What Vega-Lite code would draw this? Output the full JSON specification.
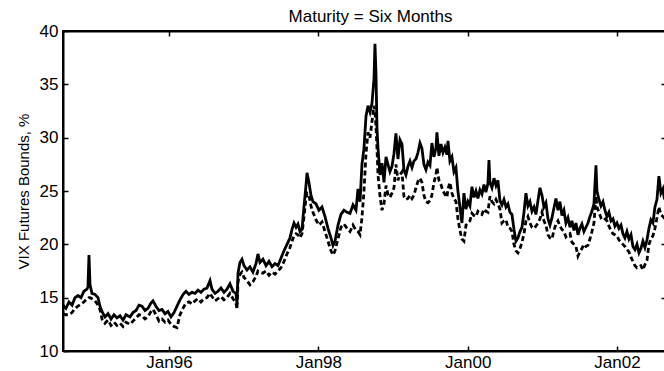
{
  "$schema": "https://vega.github.io/schema/vega-lite/v6.json",
  "autosize": "none",
  "width": 603,
  "height": 320,
  "padding": {"left": 63, "top": 31, "right": 0, "bottom": 20},
  "background": "white",
  "config": {
    "view": {"stroke": "black", "strokeWidth": 2},
    "font": "Liberation Sans",
    "axis": {"grid": false, "domainColor": "black", "domainWidth": 2, "tickColor": "black", "tickWidth": 1.5, "labelColor": "black", "labelFont": "Liberation Sans", "labelFontSize": 17, "titleFont": "Liberation Sans", "titleFontWeight": "normal", "titleColor": "black"}
  },
  "title": {"text": "Maturity = Six Months", "font": "Liberation Sans", "fontSize": 17, "fontWeight": "normal", "color": "black", "anchor": "middle", "baseline": "alphabetic", "offset": -17, "dx": 6},
  "data": {"values": [
    {"t":1994.580,"u":14.3,"l":13.5},{"t":1994.620,"u":14.0,"l":13.4},{"t":1994.660,"u":14.6,"l":13.4},{"t":1994.701,"u":14.3,"l":13.6},
    {"t":1994.741,"u":15.0,"l":14.0},{"t":1994.781,"u":15.2,"l":14.2},{"t":1994.821,"u":15.0,"l":14.4},{"t":1994.861,"u":15.6,"l":14.6},
    {"t":1994.901,"u":15.8,"l":14.9},{"t":1994.914,"u":16.0,"l":14.9},{"t":1994.928,"u":19.0,"l":15.0},{"t":1994.942,"u":16.2,"l":15.0},
    {"t":1994.968,"u":15.4,"l":14.9},{"t":1995.009,"u":15.3,"l":14.7},{"t":1995.049,"u":15.0,"l":14.3},{"t":1995.075,"u":14.2,"l":13.9},
    {"t":1995.102,"u":13.7,"l":13.0},{"t":1995.142,"u":13.2,"l":12.6},{"t":1995.183,"u":13.5,"l":12.9},{"t":1995.223,"u":13.0,"l":12.4},
    {"t":1995.263,"u":13.4,"l":12.7},{"t":1995.303,"u":13.1,"l":12.4},{"t":1995.343,"u":13.3,"l":12.6},{"t":1995.384,"u":12.9,"l":12.3},
    {"t":1995.424,"u":13.4,"l":12.7},{"t":1995.477,"u":13.2,"l":12.5},{"t":1995.517,"u":13.6,"l":12.8},{"t":1995.558,"u":13.8,"l":13.1},
    {"t":1995.598,"u":14.3,"l":13.4},{"t":1995.638,"u":14.2,"l":13.3},{"t":1995.678,"u":13.8,"l":13.0},{"t":1995.718,"u":14.0,"l":13.2},
    {"t":1995.758,"u":14.5,"l":13.7},{"t":1995.785,"u":14.7,"l":13.9},{"t":1995.825,"u":14.2,"l":13.4},{"t":1995.866,"u":13.8,"l":12.8},
    {"t":1995.906,"u":13.9,"l":13.0},{"t":1995.946,"u":13.5,"l":12.7},{"t":1995.986,"u":13.7,"l":12.9},{"t":1996.027,"u":13.2,"l":12.5},
    {"t":1996.067,"u":13.6,"l":12.3},{"t":1996.107,"u":14.2,"l":12.2},{"t":1996.147,"u":14.8,"l":13.4},{"t":1996.187,"u":15.3,"l":14.0},
    {"t":1996.227,"u":15.6,"l":14.5},{"t":1996.267,"u":15.3,"l":14.6},{"t":1996.308,"u":15.5,"l":14.4},{"t":1996.348,"u":15.4,"l":14.7},
    {"t":1996.388,"u":15.7,"l":14.9},{"t":1996.428,"u":15.5,"l":14.6},{"t":1996.468,"u":15.8,"l":14.9},{"t":1996.508,"u":15.9,"l":15.0},
    {"t":1996.549,"u":16.6,"l":15.4},{"t":1996.575,"u":15.8,"l":15.1},{"t":1996.616,"u":15.4,"l":14.7},{"t":1996.656,"u":15.6,"l":14.9},
    {"t":1996.696,"u":15.9,"l":15.1},{"t":1996.736,"u":15.5,"l":14.8},{"t":1996.776,"u":15.8,"l":15.0},{"t":1996.816,"u":16.3,"l":15.4},
    {"t":1996.857,"u":15.6,"l":14.9},{"t":1996.897,"u":15.4,"l":14.5},{"t":1996.910,"u":14.4,"l":13.9},{"t":1996.924,"u":17.3,"l":16.5},
    {"t":1996.950,"u":18.3,"l":17.2},{"t":1996.977,"u":18.6,"l":17.4},{"t":1997.004,"u":18.0,"l":16.9},{"t":1997.044,"u":17.6,"l":16.6},
    {"t":1997.084,"u":17.9,"l":16.2},{"t":1997.124,"u":17.4,"l":16.5},{"t":1997.165,"u":18.2,"l":17.0},{"t":1997.191,"u":19.1,"l":17.5},
    {"t":1997.218,"u":18.3,"l":17.4},{"t":1997.258,"u":18.6,"l":17.3},{"t":1997.299,"u":18.0,"l":17.5},{"t":1997.339,"u":18.4,"l":17.1},
    {"t":1997.379,"u":17.9,"l":17.4},{"t":1997.419,"u":18.2,"l":17.2},{"t":1997.459,"u":18.0,"l":17.5},{"t":1997.499,"u":18.7,"l":17.8},
    {"t":1997.540,"u":19.4,"l":18.4},{"t":1997.580,"u":20.0,"l":19.1},{"t":1997.620,"u":20.6,"l":19.7},{"t":1997.647,"u":21.4,"l":20.3},
    {"t":1997.674,"u":22.0,"l":20.8},{"t":1997.701,"u":21.6,"l":21.0},{"t":1997.727,"u":21.9,"l":20.9},{"t":1997.754,"u":21.2,"l":20.6},
    {"t":1997.781,"u":21.4,"l":21.0},{"t":1997.807,"u":23.5,"l":22.5},{"t":1997.834,"u":25.5,"l":24.3},{"t":1997.848,"u":26.7,"l":24.8},
    {"t":1997.874,"u":25.8,"l":24.6},{"t":1997.901,"u":24.6,"l":23.6},{"t":1997.928,"u":24.0,"l":23.0},{"t":1997.968,"u":23.8,"l":22.3},
    {"t":1998.008,"u":23.2,"l":21.8},{"t":1998.049,"u":23.5,"l":22.1},{"t":1998.089,"u":22.6,"l":21.2},{"t":1998.129,"u":21.5,"l":20.3},
    {"t":1998.169,"u":20.6,"l":19.4},{"t":1998.196,"u":19.9,"l":19.0},{"t":1998.223,"u":20.3,"l":19.4},{"t":1998.263,"u":21.8,"l":20.5},
    {"t":1998.303,"u":22.8,"l":21.6},{"t":1998.343,"u":23.2,"l":21.9},{"t":1998.384,"u":23.0,"l":21.5},{"t":1998.424,"u":22.9,"l":21.2},
    {"t":1998.464,"u":23.7,"l":21.8},{"t":1998.504,"u":23.2,"l":21.3},{"t":1998.531,"u":25.2,"l":21.2},{"t":1998.558,"u":24.0,"l":20.9},
    {"t":1998.584,"u":27.5,"l":22.5},{"t":1998.611,"u":29.0,"l":25.0},{"t":1998.638,"u":32.0,"l":28.5},{"t":1998.665,"u":33.0,"l":30.5},
    {"t":1998.692,"u":32.4,"l":30.0},{"t":1998.718,"u":33.2,"l":31.5},{"t":1998.745,"u":35.5,"l":33.0},{"t":1998.758,"u":38.8,"l":32.5},
    {"t":1998.772,"u":36.0,"l":31.0},{"t":1998.785,"u":31.0,"l":29.0},{"t":1998.799,"u":29.0,"l":26.5},{"t":1998.826,"u":26.5,"l":24.5},
    {"t":1998.852,"u":27.6,"l":23.2},{"t":1998.879,"u":25.8,"l":23.8},{"t":1998.906,"u":28.2,"l":25.5},{"t":1998.932,"u":27.5,"l":24.7},
    {"t":1998.959,"u":26.8,"l":24.4},{"t":1998.986,"u":27.3,"l":24.8},{"t":1999.013,"u":28.5,"l":25.3},{"t":1999.039,"u":30.4,"l":27.5},
    {"t":1999.066,"u":28.0,"l":26.0},{"t":1999.093,"u":29.8,"l":26.5},{"t":1999.120,"u":29.4,"l":26.8},{"t":1999.146,"u":27.0,"l":24.5},
    {"t":1999.173,"u":26.5,"l":24.2},{"t":1999.200,"u":27.3,"l":24.3},{"t":1999.227,"u":27.8,"l":24.6},{"t":1999.254,"u":27.2,"l":24.3},
    {"t":1999.280,"u":27.8,"l":24.6},{"t":1999.307,"u":28.0,"l":25.3},{"t":1999.334,"u":28.6,"l":25.9},{"t":1999.361,"u":29.5,"l":26.2},
    {"t":1999.387,"u":29.0,"l":25.8},{"t":1999.414,"u":27.5,"l":24.6},{"t":1999.441,"u":27.0,"l":24.0},{"t":1999.468,"u":27.7,"l":23.9},
    {"t":1999.495,"u":27.4,"l":24.1},{"t":1999.521,"u":29.5,"l":24.6},{"t":1999.548,"u":28.2,"l":25.8},{"t":1999.575,"u":29.0,"l":26.5},
    {"t":1999.588,"u":30.5,"l":27.2},{"t":1999.615,"u":28.3,"l":26.0},{"t":1999.642,"u":29.4,"l":25.6},{"t":1999.669,"u":28.6,"l":25.0},
    {"t":1999.695,"u":29.1,"l":24.7},{"t":1999.722,"u":28.4,"l":24.4},{"t":1999.736,"u":29.7,"l":25.2},{"t":1999.762,"u":27.8,"l":25.8},
    {"t":1999.789,"u":28.2,"l":24.8},{"t":1999.816,"u":26.8,"l":24.3},{"t":1999.843,"u":27.2,"l":24.0},{"t":1999.869,"u":25.0,"l":22.4},
    {"t":1999.896,"u":23.5,"l":21.3},{"t":1999.923,"u":22.0,"l":20.5},{"t":1999.950,"u":24.8,"l":20.3},{"t":1999.977,"u":23.3,"l":21.8},
    {"t":2000.003,"u":24.0,"l":22.0},{"t":2000.030,"u":23.6,"l":22.2},{"t":2000.057,"u":25.4,"l":22.9},{"t":2000.084,"u":24.4,"l":22.7},
    {"t":2000.111,"u":25.0,"l":22.6},{"t":2000.137,"u":24.3,"l":23.1},{"t":2000.164,"u":25.1,"l":22.9},{"t":2000.191,"u":24.7,"l":22.8},
    {"t":2000.218,"u":25.6,"l":23.3},{"t":2000.244,"u":24.9,"l":23.1},{"t":2000.271,"u":25.7,"l":23.0},{"t":2000.285,"u":27.9,"l":23.8},
    {"t":2000.298,"u":25.8,"l":24.5},{"t":2000.325,"u":25.3,"l":24.0},{"t":2000.352,"u":26.2,"l":23.8},{"t":2000.379,"u":25.5,"l":24.2},
    {"t":2000.405,"u":26.0,"l":23.8},{"t":2000.432,"u":24.1,"l":23.3},{"t":2000.459,"u":23.7,"l":22.0},{"t":2000.486,"u":24.2,"l":22.2},
    {"t":2000.513,"u":23.5,"l":22.3},{"t":2000.539,"u":23.8,"l":21.6},{"t":2000.566,"u":23.0,"l":21.5},{"t":2000.593,"u":22.8,"l":21.2},
    {"t":2000.620,"u":21.4,"l":20.0},{"t":2000.647,"u":20.3,"l":19.4},{"t":2000.673,"u":20.6,"l":19.2},{"t":2000.700,"u":21.2,"l":19.6},
    {"t":2000.727,"u":21.6,"l":20.2},{"t":2000.754,"u":23.0,"l":21.0},{"t":2000.780,"u":24.8,"l":22.2},{"t":2000.807,"u":23.6,"l":22.6},
    {"t":2000.834,"u":24.0,"l":22.0},{"t":2000.861,"u":23.1,"l":21.6},{"t":2000.888,"u":23.5,"l":21.5},{"t":2000.914,"u":22.8,"l":21.7},
    {"t":2000.941,"u":24.1,"l":22.0},{"t":2000.968,"u":25.3,"l":22.4},{"t":2000.995,"u":24.6,"l":23.0},{"t":2001.021,"u":23.5,"l":22.2},
    {"t":2001.048,"u":23.9,"l":21.8},{"t":2001.075,"u":22.4,"l":20.9},{"t":2001.102,"u":21.8,"l":20.6},{"t":2001.129,"u":22.5,"l":20.5},
    {"t":2001.155,"u":23.4,"l":21.3},{"t":2001.182,"u":24.3,"l":21.9},{"t":2001.209,"u":23.2,"l":22.2},{"t":2001.236,"u":24.0,"l":21.7},
    {"t":2001.262,"u":22.7,"l":21.4},{"t":2001.289,"u":23.2,"l":21.2},{"t":2001.316,"u":22.0,"l":20.7},{"t":2001.343,"u":22.5,"l":20.9},
    {"t":2001.370,"u":21.6,"l":21.0},{"t":2001.396,"u":22.2,"l":20.2},{"t":2001.423,"u":21.3,"l":20.0},{"t":2001.450,"u":22.0,"l":19.8},
    {"t":2001.477,"u":20.9,"l":18.9},{"t":2001.503,"u":21.5,"l":19.3},{"t":2001.530,"u":21.9,"l":19.6},{"t":2001.557,"u":21.2,"l":20.0},
    {"t":2001.584,"u":21.6,"l":19.8},{"t":2001.611,"u":22.0,"l":19.9},{"t":2001.637,"u":22.6,"l":20.5},{"t":2001.664,"u":23.1,"l":21.2},
    {"t":2001.691,"u":23.8,"l":22.0},{"t":2001.718,"u":27.4,"l":24.5},{"t":2001.731,"u":25.0,"l":23.5},{"t":2001.758,"u":24.2,"l":23.0},
    {"t":2001.785,"u":23.6,"l":22.5},{"t":2001.812,"u":24.0,"l":22.6},{"t":2001.838,"u":23.2,"l":22.4},{"t":2001.865,"u":22.6,"l":22.2},
    {"t":2001.892,"u":23.0,"l":21.7},{"t":2001.919,"u":22.2,"l":21.3},{"t":2001.946,"u":22.4,"l":21.0},{"t":2001.972,"u":21.7,"l":20.9},
    {"t":2001.999,"u":22.0,"l":20.8},{"t":2002.026,"u":21.5,"l":20.4},{"t":2002.053,"u":21.8,"l":20.2},{"t":2002.079,"u":21.0,"l":20.0},
    {"t":2002.106,"u":20.6,"l":19.8},{"t":2002.133,"u":21.2,"l":19.5},{"t":2002.160,"u":20.5,"l":19.3},{"t":2002.187,"u":20.9,"l":18.8},
    {"t":2002.213,"u":19.8,"l":18.4},{"t":2002.240,"u":19.5,"l":18.0},{"t":2002.267,"u":20.0,"l":17.8},{"t":2002.294,"u":19.2,"l":17.9},
    {"t":2002.320,"u":19.6,"l":18.0},{"t":2002.347,"u":20.3,"l":17.6},{"t":2002.374,"u":19.7,"l":18.1},{"t":2002.401,"u":20.4,"l":18.5},
    {"t":2002.428,"u":21.5,"l":20.0},{"t":2002.454,"u":22.3,"l":20.5},{"t":2002.481,"u":22.0,"l":20.8},{"t":2002.508,"u":23.5,"l":21.5},
    {"t":2002.535,"u":24.2,"l":22.5},{"t":2002.561,"u":26.4,"l":23.5},{"t":2002.588,"u":24.8,"l":22.8},{"t":2002.615,"u":25.2,"l":22.6},
    {"t":2002.629,"u":24.5,"l":22.5},{"t":2002.656,"u":24.8,"l":22.7}
  ]},
  "layer": [
    {
      "mark": {"type": "line", "color": "black", "strokeWidth": 2.8, "strokeDash": [5, 3], "clip": true},
      "encoding": {
        "x": {"field": "t", "type": "quantitative", "scale": {"domain": [1994.58, 2002.656], "nice": false, "zero": false},
              "axis": {"orient": "bottom", "values": [1996, 1998, 2000, 2002], "labelExpr": "'Jan' + substring(toString(datum.value), 2, 4)", "title": null, "tickSize": -5, "labelPadding": 8, "domain": true}},
        "y": {"field": "l", "type": "quantitative", "scale": {"domain": [10, 40], "nice": false, "zero": false},
              "axis": {"orient": "left", "values": [10, 15, 20, 25, 30, 35, 40], "title": "VIX Futures Bounds, %", "titleFontSize": 15, "titlePadding": 8, "tickSize": -5, "labelPadding": 10}}
      }
    },
    {
      "mark": {"type": "line", "color": "black", "strokeWidth": 2.8, "clip": true},
      "encoding": {
        "x": {"field": "t", "type": "quantitative", "scale": {"domain": [1994.58, 2002.656], "nice": false, "zero": false},
              "axis": {"orient": "top", "values": [1996, 1998, 2000, 2002], "labels": false, "title": null, "tickSize": -5}},
        "y": {"field": "u", "type": "quantitative", "scale": {"domain": [10, 40], "nice": false, "zero": false},
              "axis": {"orient": "right", "values": [15, 20, 25, 30, 35], "labels": false, "title": null, "tickSize": -5}}
      }
    }
  ],
  "resolve": {"axis": {"x": "independent", "y": "independent"}}
}
